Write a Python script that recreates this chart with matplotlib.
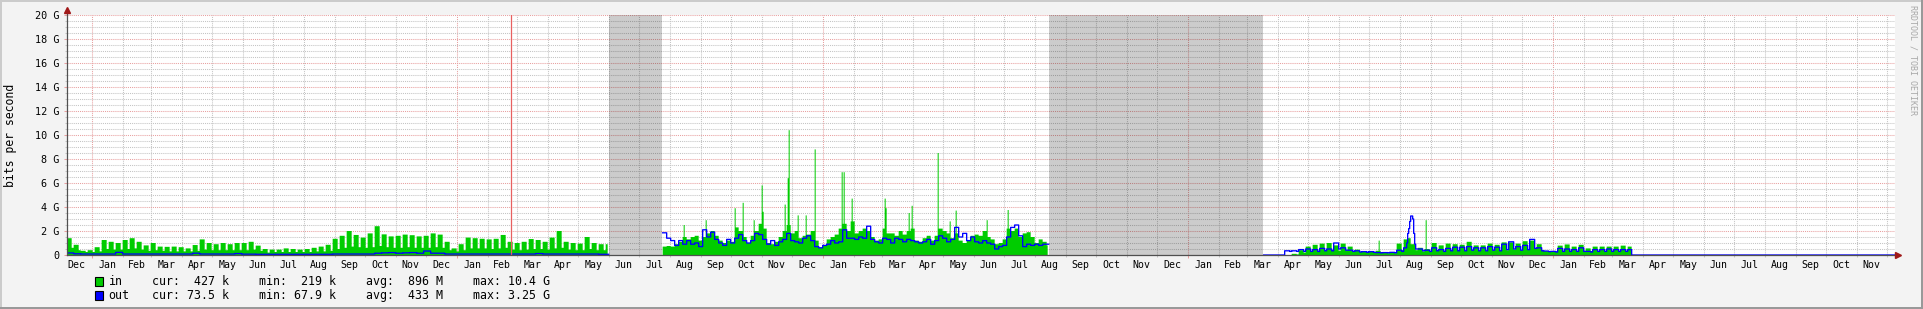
import numpy as np
import pandas as pd
import matplotlib
matplotlib.use("Agg")
import matplotlib.pyplot as plt
import matplotlib.dates as mdates
import matplotlib.transforms as mtrans
from matplotlib.ticker import MultipleLocator, FuncFormatter, NullFormatter
from matplotlib.patches import Rectangle

plt.rcParams['font.family'] = ['DejaVu Sans Mono']

# ---------------- data (bits per second, in G) ----------------
view_start = "2014-12-07 08:00"
view_end = "2019-12-09 08:00"

# Section A: weekly peak / weekend low, Dec 2014 - Jun 2016
secA_start = "2014-12-07"
secA_end = "2016-06-01"
inA_hi = [1.4, 0.85, 0.35, 0.4, 0.65, 1.25, 1.1, 1.0, 1.25, 1.4,
          1.1, 0.8, 1.0, 0.7, 0.68, 0.7, 0.65, 0.55, 0.83, 1.3,
          1.0, 0.9, 1.0, 0.9, 1.0, 1.0, 1.1, 0.78, 0.5, 0.45,
          0.45, 0.55, 0.5, 0.45, 0.5, 0.6, 0.7, 0.85, 1.35, 1.6,
          2.0, 1.67, 1.45, 1.8, 2.4, 1.72, 1.55, 1.6, 1.7, 1.65,
          1.55, 1.6, 1.8, 1.7, 1.1, 0.55, 0.9, 1.45, 1.4, 1.35,
          1.3, 1.35, 1.67, 1.1, 1.0, 1.1, 1.33, 1.25, 1.1, 1.45,
          2.0, 1.1, 1.0, 0.95, 1.5, 1.0, 0.9, 0.9]
inA_lo = [0.6, 0.4, 0.25, 0.25, 0.3, 0.5, 0.45, 0.45, 0.5, 0.55,
          0.45, 0.35, 0.4, 0.35, 0.3, 0.3, 0.3, 0.3, 0.35, 0.45,
          0.4, 0.4, 0.4, 0.4, 0.4, 0.4, 0.45, 0.35, 0.2, 0.25,
          0.25, 0.25, 0.25, 0.25, 0.25, 0.3, 0.3, 0.35, 0.5, 0.6,
          0.7, 0.65, 0.6, 0.65, 0.75, 0.65, 0.6, 0.6, 0.65, 0.6,
          0.6, 0.6, 0.65, 0.6, 0.4, 0.3, 0.4, 0.55, 0.55, 0.55,
          0.5, 0.55, 0.6, 0.45, 0.4, 0.45, 0.5, 0.5, 0.45, 0.55,
          0.6, 0.45, 0.4, 0.4, 0.5, 0.4, 0.4, 0.4]
outA = [0.17, 0.1, 0.08, 0.08, 0.08, 0.08, 0.08, 0.22, 0.08, 0.08,
        0.08, 0.08, 0.08, 0.08, 0.08, 0.08, 0.08, 0.08, 0.15, 0.08,
        0.08, 0.08, 0.08, 0.08, 0.12, 0.07, 0.07, 0.06, 0.06, 0.06,
        0.06, 0.06, 0.06, 0.06, 0.06, 0.06, 0.06, 0.06, 0.08, 0.08,
        0.08, 0.08, 0.08, 0.08, 0.15, 0.18, 0.2, 0.15, 0.18, 0.2,
        0.15, 0.33, 0.15, 0.15, 0.08, 0.08, 0.08, 0.08, 0.08, 0.08,
        0.08, 0.08, 0.08, 0.08, 0.08, 0.08, 0.08, 0.12, 0.08, 0.08,
        0.08, 0.08, 0.08, 0.08, 0.08, 0.08, 0.06, 0.06]

# Section B: 4-day levels, Jul 2016 - Aug 2017
secB_start = "2016-07-25"
secB_end = "2017-08-15"
inB = [0.7, 0.75, 0.7, 0.9, 1.1, 1.5, 1.3, 1.5, 1.6, 1.2,
       1.5, 1.8, 2.0, 1.6, 1.2, 1.0, 1.2, 1.1, 2.3, 2.0,
       1.5, 1.0, 1.6, 2.0, 2.6, 2.2, 1.0, 0.9, 1.1, 1.5,
       2.0, 2.5, 1.8, 2.0, 1.4, 1.6, 1.7, 2.0, 1.2, 0.6,
       0.8, 1.3, 1.5, 1.7, 2.2, 2.6, 2.0, 2.8, 1.8, 2.0,
       2.2, 2.0, 1.5, 1.2, 1.3, 2.2, 1.8, 1.8, 1.6, 2.0,
       1.7, 2.0, 2.2, 1.2, 1.1, 1.4, 1.6, 1.2, 1.6, 2.2,
       2.0, 1.8, 1.4, 1.8, 1.2, 1.0, 1.2, 1.6, 1.7, 1.6,
       2.0, 1.5, 1.3, 0.9, 1.0, 1.3, 2.2, 2.0, 2.2, 1.5,
       1.8, 1.9, 1.5, 1.0, 1.3, 1.1, 0.8]
outB = [1.85, 1.4, 1.2, 0.8, 1.2, 0.9, 1.2, 0.9, 1.0, 0.7,
        2.1, 1.5, 1.9, 1.3, 1.0, 0.8, 1.3, 1.0, 1.4, 1.7,
        1.2, 1.0, 1.2, 1.8, 1.7, 1.3, 0.9, 1.2, 0.8, 1.1,
        1.3, 1.8, 1.2, 1.1, 1.0, 1.4, 1.6, 1.2, 0.7, 0.6,
        0.8, 0.9, 1.2, 1.0, 1.1, 2.1, 1.4, 1.4, 1.3, 1.5,
        1.4, 2.4, 1.3, 1.1, 1.0, 1.4, 1.3, 1.0, 1.4, 1.3,
        1.1, 1.3, 1.2, 1.1, 1.0, 1.1, 1.3, 0.9, 1.2, 1.6,
        1.4, 1.1, 1.3, 2.3, 1.5, 1.8, 1.2, 1.5, 1.1, 1.0,
        1.2, 1.0, 0.9, 0.5, 0.7, 0.8, 1.5, 2.3, 2.5, 1.6,
        0.7, 0.9, 0.8, 0.9, 0.8, 0.9, 0.9]
# single-day spikes of "in" (day offset from secB_start, value)
inB_spike_day = [21, 43, 72, 80, 91, 99, 100, 122, 125, 126, 135, 143, 152,
                 179, 181, 189, 222, 223, 246, 249, 275, 287, 293, 324, 345]
inB_spike_val = [2.5, 2.9, 3.9, 4.35, 2.9, 5.8, 3.6, 4.2, 6.4, 10.4, 3.3, 3.3, 8.8,
                 6.9, 6.9, 4.7, 4.7, 3.9, 3.5, 4.1, 8.5, 2.8, 3.7, 2.9, 3.75]

# Section C: weekly peak / weekend low, Mar 2018 - Mar 2019
secC_start = "2018-03-18"
secC_end = "2019-03-21"
inC_hi = [0, 0, 0, 0, 0.1, 0.4, 0.7, 0.85, 0.95, 1.0,
          0.8, 0.95, 0.7, 0.45, 0.3, 0.3, 0.35, 0.2, 0.25, 0.95,
          1.3, 0.9, 0.6, 0.5, 1.0, 0.8, 0.95, 0.9, 0.85, 1.1,
          0.8, 0.8, 0.95, 0.85, 1.05, 1.05, 0.95, 1.15, 1.2, 0.9,
          0.33, 0.3, 0.78, 0.88, 0.7, 0.85, 0.55, 0.7, 0.7, 0.7,
          0.7, 0.78, 0.7]
inC_lo = [0, 0, 0, 0, 0.05, 0.2, 0.3, 0.35, 0.4, 0.4,
          0.35, 0.4, 0.3, 0.25, 0.2, 0.2, 0.2, 0.15, 0.15, 0.4,
          0.5, 0.4, 0.3, 0.25, 0.4, 0.35, 0.4, 0.4, 0.35, 0.4,
          0.35, 0.35, 0.4, 0.35, 0.4, 0.45, 0.4, 0.45, 0.5, 0.4,
          0.25, 0.25, 0.35, 0.35, 0.3, 0.35, 0.3, 0.3, 0.3, 0.3,
          0.3, 0.35, 0.3]
outC_hi = [0, 0, 0, 0.35, 0.35, 0.45, 0.5, 0.45, 0.55, 0.5,
           1.0, 0.6, 0.4, 0.35, 0.28, 0.28, 0.2, 0.2, 0.22, 0.4,
           0.6, 0.6, 0.5, 0.4, 0.6, 0.45, 0.55, 0.65, 0.65, 0.7,
           0.6, 0.6, 0.7, 0.65, 0.9, 1.1, 0.7, 0.8, 1.3, 0.6,
           0.33, 0.3, 0.55, 0.5, 0.45, 0.6, 0.3, 0.45, 0.45, 0.5,
           0.45, 0.45, 0.45]
outC_lo = [0, 0, 0, 0.3, 0.3, 0.3, 0.3, 0.3, 0.35, 0.35,
           0.5, 0.4, 0.3, 0.25, 0.22, 0.22, 0.18, 0.18, 0.18, 0.3,
           0.5, 0.5, 0.35, 0.3, 0.35, 0.3, 0.35, 0.35, 0.35, 0.4,
           0.35, 0.35, 0.4, 0.35, 0.45, 0.5, 0.4, 0.45, 0.55, 0.35,
           0.28, 0.25, 0.3, 0.3, 0.3, 0.3, 0.25, 0.3, 0.3, 0.3,
           0.3, 0.3, 0.3]
inC_spike_day = [115, 144, 145, 146, 162]
inC_spike_val = [1.2, 1.4, 1.4, 1.4, 2.9]
outC_spike_day = [143, 144, 145, 146, 147, 148, 149, 150, 151]
outC_spike_val = [1.0, 1.8, 2.2, 2.8, 3.25, 3.25, 3.0, 1.8, 0.9]

vrule_dates = ["2016-02-24"]

legend_rows = [
    ("in", "#00CC00", ["cur:  427 k", "min:  219 k", "avg:  896 M", "max: 10.4 G"]),
    ("out", "#0000FF", ["cur: 73.5 k", "min: 67.9 k", "avg:  433 M", "max: 3.25 G"]),
]
y_label = "bits per second"
watermark = "RRDTOOL / TOBI OETIKER"

# ---------------- build daily series ----------------
days = pd.date_range("2014-12-07", "2019-12-10", freq="D")
n = len(days)
in_d = np.full(n, np.nan)
out_d = np.full(n, np.nan)


def idx(d):
    return int((pd.Timestamp(d) - days[0]).days)


def weekly(hi, lo, length):
    seq = []
    for h, l in zip(hi, lo):
        seq += [h] * 5 + [l] * 2
    return np.array(seq[:length], dtype=float)


a0, a1 = idx(secA_start), idx(secA_end)
in_d[a0:a1] = weekly(inA_hi, inA_lo, a1 - a0)
out_d[a0:a1] = np.repeat(outA, 7)[:a1 - a0]

b0, b1 = idx(secB_start), idx(secB_end)
segB_in = np.repeat(inB, 4)[:b1 - b0].astype(float)
for d, v in zip(inB_spike_day, inB_spike_val):
    segB_in[d] = max(segB_in[d], v)
in_d[b0:b1] = segB_in
out_d[b0:b1] = np.repeat(outB, 4)[:b1 - b0]

c0, c1 = idx(secC_start), idx(secC_end)
segC_in = weekly(inC_hi, inC_lo, c1 - c0)
segC_out = weekly(outC_hi, outC_lo, c1 - c0)
for d, v in zip(inC_spike_day, inC_spike_val):
    segC_in[d] = max(segC_in[d], v)
for d, v in zip(outC_spike_day, outC_spike_val):
    segC_out[d] = max(segC_out[d], v)
in_d[c0:c1] = segC_in
out_d[c0:c1] = segC_out
in_d[c1:] = 0.0
out_d[c1:] = 0.0

# ---------------- figure ----------------
W, H = 1923, 309
L, R, T, B = 67, 1895, 15, 255
BG = "#F3F3F3"
GRID = "#C4C4C4"
MGRID = "#E8A0A0"
AXIS = "#505050"
ARROW = "#A01818"

fig = plt.figure(figsize=(W / 100, H / 100), dpi=100, facecolor=BG)
ax = fig.add_axes([L / W, 1 - B / H, (R - L) / W, (B - T) / H])
ax.set_facecolor("white")

x = mdates.date2num(days)
unknown = np.isnan(in_d)
ax.fill_between(x, 0, 20, where=unknown, step="post", color="black",
                alpha=0.2, lw=0, zorder=1)
ax.fill_between(x, 0, np.nan_to_num(in_d), where=~unknown, step="post",
                color="#00CC00", lw=0, zorder=2)
ax.step(x, out_d, where="post", color="#0000FF", lw=0.95, zorder=3)
for vd in vrule_dates:
    ax.axvline(mdates.date2num(pd.Timestamp(vd)), color="#E86060", lw=0.9, zorder=4)

ax.set_xlim(mdates.date2num(pd.Timestamp(view_start)), mdates.date2num(pd.Timestamp(view_end)))
ax.set_ylim(0, 20)

# grid
dotted = (0, (1, 1))
ax.xaxis.set_major_locator(mdates.YearLocator())
ax.xaxis.set_minor_locator(mdates.MonthLocator())
ax.xaxis.set_major_formatter(NullFormatter())
ax.xaxis.set_minor_formatter(NullFormatter())
ax.yaxis.set_major_locator(MultipleLocator(2))
ax.yaxis.set_minor_locator(MultipleLocator(0.5))
ax.yaxis.set_major_formatter(FuncFormatter(lambda v, p: "0" if v == 0 else f"{int(round(v))} G"))
ax.set_axisbelow(True)
ax.grid(which="major", color=MGRID, linestyle=dotted, linewidth=0.75)
ax.grid(which="minor", color=GRID, linestyle=dotted, linewidth=0.75)
ax.tick_params(axis="y", which="major", length=2.5, width=0.75, color=MGRID,
               direction="out", pad=3.0, labelsize=7.3, labelcolor="black")
ax.tick_params(axis="y", which="minor", length=1.5, width=0.75, color=GRID, direction="out")
ax.tick_params(axis="x", which="major", length=2.5, width=0.75, color=MGRID, direction="out")
ax.tick_params(axis="x", which="minor", length=1.5, width=0.75, color=GRID, direction="out")
for s in ax.spines.values():
    s.set_visible(False)

# axis lines with arrows
ax.plot([0, 1.0], [0, 0], transform=ax.transAxes, color=AXIS, lw=0.9, clip_on=False, zorder=5)
ax.plot([0, 0], [0, 1.02], transform=ax.transAxes, color=AXIS, lw=0.9, clip_on=False, zorder=5)
ax.plot([1.0016], [0], marker=">", ms=4.2, color=ARROW, transform=ax.transAxes, clip_on=False, zorder=6)
ax.plot([0], [1.02], marker="^", ms=4.2, color=ARROW, transform=ax.transAxes, clip_on=False, zorder=6)

# month labels centred in each month
trans = mtrans.blended_transform_factory(ax.transData, ax.transAxes)
xmin, xmax = ax.get_xlim()
months = pd.date_range("2014-12-01", "2020-01-01", freq="MS")
for m0, m1 in zip(months[:-1], months[1:]):
    mid = mdates.date2num(m0 + (m1 - m0) / 2)
    if xmin <= mid <= xmax:
        ax.text(mid, -9.8 / 240, m0.strftime("%b"), transform=trans, ha="center",
                va="center", fontsize=7.1, color="black")

# y label
fig.text(10.8 / W, 1 - 135 / H, y_label, rotation=90, ha="center", va="center",
         fontsize=8.3, color="black")
# watermark
fig.text(1913 / W, 1 - 60 / H, watermark, rotation=270, ha="center", va="center",
         fontsize=6.0, color="#A8A8A8")

# legend
col_x = [152.5, 259.2, 366.2, 473.4]
row_base = [285.3, 299.3]
box_top = [277.0, 291.0]
for (name, col, cols), yb, bt in zip(legend_rows, row_base, box_top):
    fig.patches.append(Rectangle((94.5 / W, 1 - (bt + 9) / H), 8 / W, 9 / H,
                                 transform=fig.transFigure, facecolor=col,
                                 edgecolor="black", lw=0.8))
    fig.text(108.6 / W, 1 - yb / H, name, ha="left", va="baseline", fontsize=8.4)
    for cx, s in zip(col_x, cols):
        fig.text(cx / W, 1 - yb / H, s, ha="left", va="baseline", fontsize=8.4)

# 3D-ish border
fig.patches.append(Rectangle((0, 1 - 2 / H), 1, 2 / H, transform=fig.transFigure,
                             facecolor="#CBCBCB", lw=0))
fig.patches.append(Rectangle((0, 0), 2 / W, 1, transform=fig.transFigure,
                             facecolor="#CBCBCB", lw=0))
fig.patches.append(Rectangle((0, 0), 1, 2 / H, transform=fig.transFigure,
                             facecolor="#999999", lw=0))
fig.patches.append(Rectangle((1 - 2 / W, 0), 2 / W, 1, transform=fig.transFigure,
                             facecolor="#999999", lw=0))

fig.savefig("out.png", dpi=100, facecolor=BG)
